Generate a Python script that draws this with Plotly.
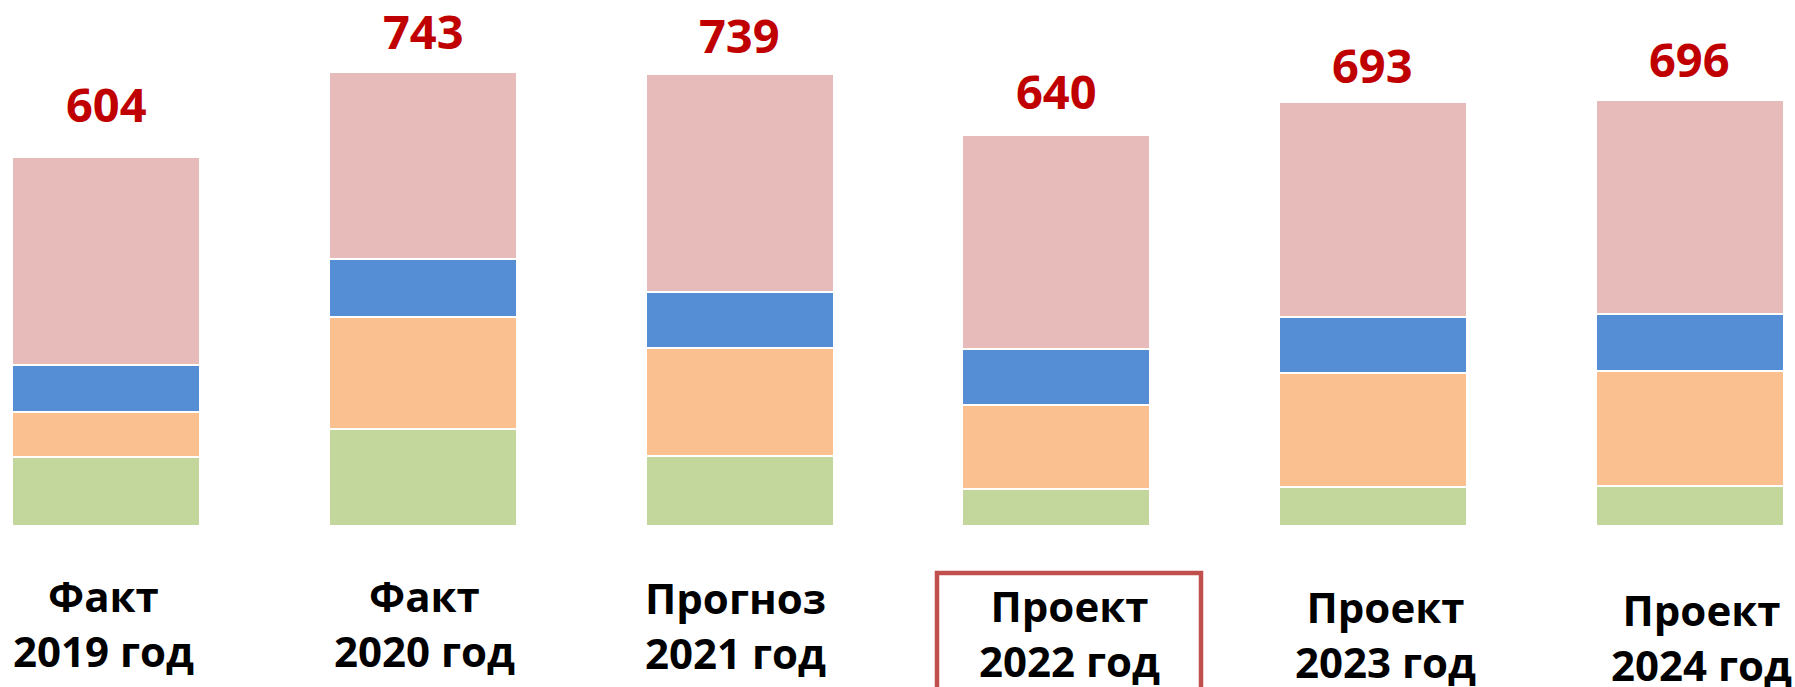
import plotly.graph_objects as go

# ---- data ----
periods = ["Факт<br>2019 год", "Факт<br>2020 год", "Прогноз<br>2021 год",
           "Проект<br>2022 год", "Проект<br>2023 год", "Проект<br>2024 год"]
green = [113, 159, 115, 60, 64, 65]
orange = [73, 182, 176, 138, 186, 189]
blue = [77, 96, 92, 92, 92, 92]
pink = [341, 306, 356, 350, 351, 350]
totals = [604, 743, 739, 640, 693, 696]

# ---- style / layout params ----
colors = {"green": "#C3D69B", "orange": "#FAC090", "blue": "#558ED5", "pink": "#E6BBBA"}
value_shift = [53, 41, 39, 44, 37, 41]            # px above bar top (text centre)
label_xshift = [-3, 1, -4, 13, 13, 12]            # px
label_center = [623, 623, 625, 633, 634, 637]     # px from top of figure
FIG_W, FIG_H = 1795, 687
MB = 161
plot_bottom = FIG_H - MB

x = list(range(len(periods)))
fig = go.Figure()
for name, vals in [("green", green), ("orange", orange), ("blue", blue), ("pink", pink)]:
    fig.add_trace(go.Bar(x=x, y=vals, name=name,
                         marker=dict(color=colors[name], line=dict(color="white", width=2)),
                         hoverinfo="skip"))

for i, t in enumerate(totals):
    fig.add_annotation(x=i, y=t, xref="x", yref="y", text=f"<b>{t}</b>", showarrow=False,
                       yanchor="middle", yshift=value_shift[i],
                       font=dict(family="Open Sans", size=47, color="#C00000"))

for i, lab in enumerate(periods):
    fig.add_annotation(x=i, y=0, xref="x", yref="paper", text=f"<b>{lab}</b>", showarrow=False,
                       yanchor="middle", xshift=label_xshift[i],
                       yshift=-(label_center[i] - plot_bottom),
                       font=dict(family="Open Sans", size=42, color="black"))

# highlight box around the 2022 label
fig.add_shape(type="rect", xref="paper", yref="paper",
              x0=937 / FIG_W, x1=1201 / FIG_W,
              y0=-0.45, y1=(plot_bottom - 573) / plot_bottom,
              line=dict(color="#C0504D", width=4.5), fillcolor="rgba(0,0,0,0)")

fig.update_layout(
    barmode="stack", bargap=0.406, showlegend=False,
    width=FIG_W, height=FIG_H,
    margin=dict(l=0, r=0, t=0, b=MB, pad=0),
    plot_bgcolor="white", paper_bgcolor="white",
    xaxis=dict(range=[-0.336, 5.333], visible=False),
    yaxis=dict(range=[0, 860], visible=False),
)
fig.write_html("out.html", config={"displayModeBar": False},
               post_script="document.body.style.margin='0';document.body.style.overflow='hidden';")
